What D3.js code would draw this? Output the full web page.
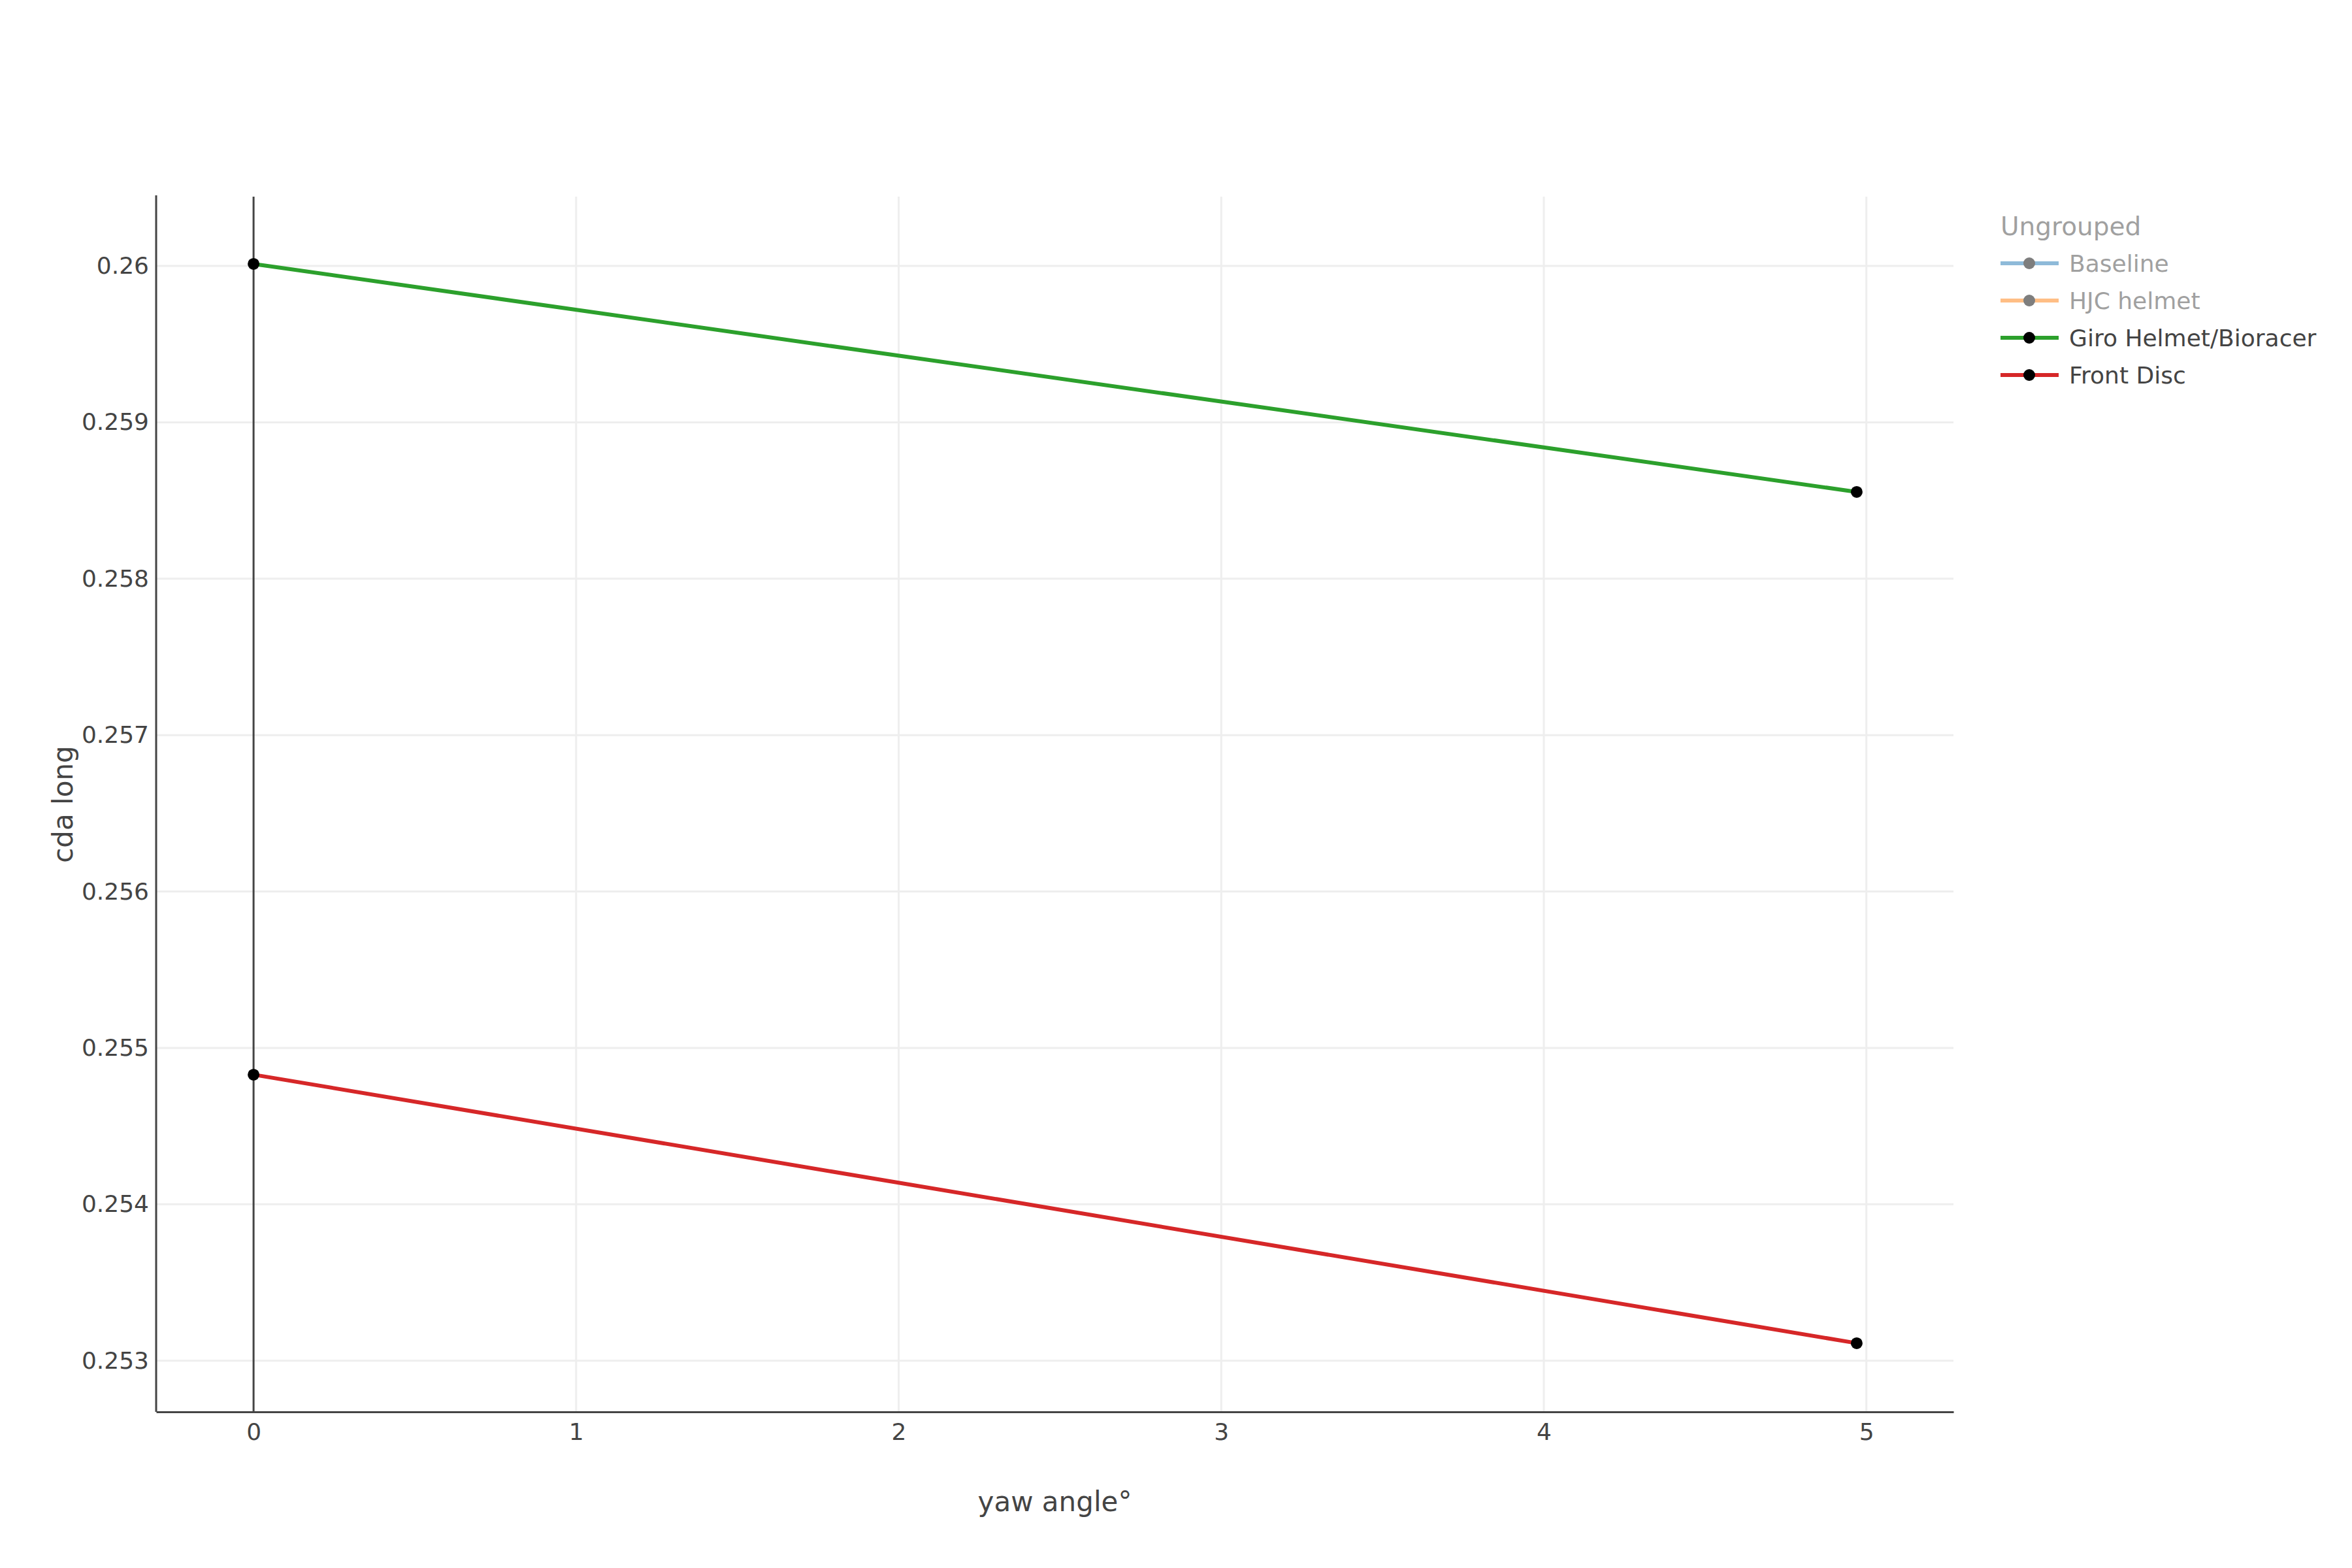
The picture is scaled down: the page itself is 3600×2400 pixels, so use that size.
<!DOCTYPE html>
<html>
<head>
<meta charset="utf-8">
<script src="https://cdn.jsdelivr.net/npm/d3@7"></script>
<style>
  body { margin: 0; background: #fff; }
  text { font-family: "DejaVu Sans", sans-serif; }
</style>
</head>
<body>
<script>
// data
const yawAngles = [0, 4.97];
const seriesNames = ["Baseline", "HJC helmet", "Giro Helmet/Bioracer", "Front Disc"];
const hiddenSeries = ["Baseline", "HJC helmet"];
const giroValues = [0.260013, 0.258555];
const frontDiscValues = [0.254829, 0.253112];
const xTicks = [0, 1, 2, 3, 4, 5];
const yTicks = [0.253, 0.254, 0.255, 0.256, 0.257, 0.258, 0.259, 0.26];
const legendTitle = "Ungrouped";

const seriesColor = {
  "Baseline": "#1f77b4",
  "HJC helmet": "#ff7f0e",
  "Giro Helmet/Bioracer": "#2ca02c",
  "Front Disc": "#d62728"
};

const seriesValues = {
  "Giro Helmet/Bioracer": giroValues,
  "Front Disc": frontDiscValues
};

let width = 3600,
  height = 2400,
  margin = {top: 301, left: 239, bottom: 239, right: 610};

let textColor = "#444";

let x = d3.scaleLinear()
  .domain([-0.302, 5.27])
  .range([margin.left, width - margin.right]);

let y = d3.scaleLinear()
  .domain([0.252673, 0.260443])
  .range([height - margin.bottom, margin.top]);

let svg = d3.select("body").append("svg")
  .attr("width", width)
  .attr("height", height);

// grid
svg.append("g").selectAll("line")
  .data(yTicks).enter().append("line")
  .attr("x1", margin.left).attr("x2", width - margin.right)
  .attr("y1", d => y(d)).attr("y2", d => y(d))
  .attr("stroke", "#eee").attr("stroke-width", 3);

svg.append("g").selectAll("line")
  .data(xTicks.filter(d => d !== 0)).enter().append("line")
  .attr("x1", d => x(d)).attr("x2", d => x(d))
  .attr("y1", margin.top).attr("y2", height - margin.bottom)
  .attr("stroke", "#eee").attr("stroke-width", 3);

// zero line
svg.append("line")
  .attr("x1", x(0)).attr("x2", x(0))
  .attr("y1", margin.top).attr("y2", height - margin.bottom)
  .attr("stroke", textColor).attr("stroke-width", 3);

// axes
let xAxis = d3.axisBottom(x).tickValues(xTicks).tickSize(0).tickPadding(17)
  .tickFormat(d3.format("d"));
let gx = svg.append("g")
  .attr("transform", `translate(0, ${height - margin.bottom})`)
  .call(xAxis);

let yAxis = d3.axisLeft(y).tickValues(yTicks).tickSize(0).tickPadding(11)
  .tickFormat(d => String(+d.toFixed(3)));
let gy = svg.append("g")
  .attr("transform", `translate(${margin.left}, 0)`)
  .call(yAxis);

[gx, gy].forEach(g => {
  g.select(".domain").attr("stroke", textColor).attr("stroke-width", 3);
  g.selectAll(".tick text")
    .attr("fill", textColor)
    .attr("font-size", 36)
    .attr("font-family", "DejaVu Sans, sans-serif");
});
gy.select(".domain").attr("d", `M0,${margin.top - 2}V${height - margin.bottom}`);

// axis titles
svg.append("text")
  .attr("x", (margin.left + width - margin.right) / 2)
  .attr("y", 2298)
  .attr("dy", "0.35em")
  .attr("text-anchor", "middle")
  .attr("font-size", 42)
  .attr("fill", textColor)
  .text("yaw angle°");

svg.append("text")
  .attr("transform", `translate(96, ${(margin.top + height - margin.bottom) / 2}) rotate(-90)`)
  .attr("dy", "0.35em")
  .attr("text-anchor", "middle")
  .attr("font-size", 42)
  .attr("fill", textColor)
  .text("cda long");

// lines + markers
let line = d3.line()
  .x((d, i) => x(yawAngles[i]))
  .y(d => y(d));

let plotted = seriesNames.filter(n => !hiddenSeries.includes(n));

plotted.forEach(name => {
  let vals = seriesValues[name];
  let g = svg.append("g").attr("class", "trace");
  g.append("path")
    .attr("d", line(vals))
    .attr("fill", "none")
    .attr("stroke", seriesColor[name])
    .attr("stroke-width", 6);
  g.selectAll("circle")
    .data(vals).enter().append("circle")
    .attr("cx", (d, i) => x(yawAngles[i]))
    .attr("cy", d => y(d))
    .attr("r", 9)
    .attr("fill", "#000");
});

// legend
let legend = svg.append("g").attr("transform", "translate(3062, 346)");
legend.append("text")
  .attr("x", 0).attr("y", 0)
  .attr("dy", "0.35em")
  .attr("font-size", 39)
  .attr("fill", textColor)
  .attr("opacity", 0.5)
  .text(legendTitle);

let items = legend.selectAll("g.item")
  .data(seriesNames).enter().append("g")
  .attr("class", "item")
  .attr("transform", (d, i) => `translate(0, ${57 + i * 57})`)
  .attr("opacity", d => hiddenSeries.includes(d) ? 0.5 : 1);

items.append("line")
  .attr("x1", 0).attr("x2", 89)
  .attr("stroke", d => seriesColor[d])
  .attr("stroke-width", 6);
items.append("circle")
  .attr("cx", 44).attr("r", 9)
  .attr("fill", "#000");
items.append("text")
  .attr("x", 105)
  .attr("dy", "0.35em")
  .attr("font-size", 36)
  .attr("fill", textColor)
  .text(d => d);
</script>
</body>
</html>
